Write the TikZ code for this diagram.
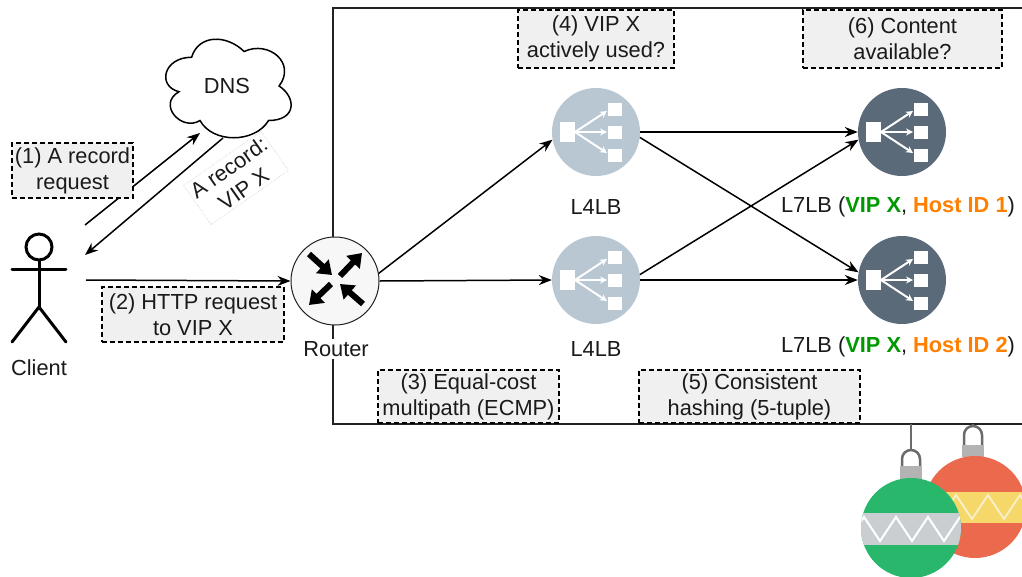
\documentclass[tikz,border=0pt]{standalone}
\usepackage{fontspec}
\setmainfont{Liberation Sans}
\usetikzlibrary{arrows.meta}

\definecolor{textc}{HTML}{1A1A1A}
\definecolor{boxfill}{HTML}{F0F0F0}
\definecolor{framec}{HTML}{222222}
\definecolor{lbfour}{HTML}{B9C7D3}
\definecolor{lbseven}{HTML}{5B6A79}
\definecolor{vipgreen}{HTML}{009900}
\definecolor{hostorange}{HTML}{FF8000}
\definecolor{ballgreen}{HTML}{29B76C}
\definecolor{ballred}{HTML}{EB6A4E}
\definecolor{bandyellow}{HTML}{F5D76A}
\definecolor{bandgray}{HTML}{C9CED1}
\definecolor{capgray}{HTML}{B3B3B3}
\definecolor{hookgray}{HTML}{6B6B6B}
\definecolor{zigcream}{HTML}{FAEFC4}

\begin{document}
\begin{tikzpicture}[x=1pt,y=-1pt,
  font=\fontsize{21.8}{26}\selectfont,
  note/.style={draw=black, line width=1.4pt, dash pattern=on 5pt off 3pt,
    fill=boxfill, align=center, inner sep=0pt, text=textc},
  flow/.style={line width=1.5pt, draw=black, -{Stealth[length=13pt,width=10pt]}},
  lbnode/.style={circle, minimum size=88pt, inner sep=0pt},
  lbl/.style={text=textc, align=center},
  stick/.style={line width=3pt, line cap=round},
  rarrow/.style={line width=6pt, -{Triangle[length=13pt,width=18pt]}},
  iconarrow/.style={white, line width=2pt, -{Stealth[length=7pt,width=7pt]}},
  hook/.style={draw=hookgray, line width=2.5pt}]

\useasboundingbox (0,0) rectangle (1022,576);
\fill[white] (0,0) rectangle (1022,576);

% data-centre frame, open to the right
\draw[framec, line width=1.6pt] (1022,8) -- (333,8) -- (333,424) -- (1022,424);

% DNS cloud (lobed outline in a 140 x 115 box)
\begin{scope}[shift={(156.6,28.5)}, x=140pt, y=-115pt]
  \draw[line width=1.5pt, fill=white]
    (0.25,0.25) .. controls (0.05,0.25) and (0,0.5) .. (0.16,0.55)
    .. controls (0,0.66) and (0.18,0.9) .. (0.31,0.8)
    .. controls (0.4,1) and (0.7,1) .. (0.8,0.8)
    .. controls (1,0.8) and (1,0.6) .. (0.875,0.5)
    .. controls (1,0.3) and (0.8,0.1) .. (0.625,0.2)
    .. controls (0.5,0.05) and (0.3,0.05) .. (0.25,0.25) -- cycle;
\end{scope}
\node[lbl] (dns) at (227,86) {DNS};

% client stick figure
\node[minimum width=56pt, minimum height=110pt, inner sep=0pt] (client) at (39,290) {};
\draw[stick] (39,247) circle (13);
\draw[stick] (12,269) -- (66,269);
\draw[stick] (39,260) -- (39,307);
\draw[stick] (12,342) -- (39,307) -- (66,342);
\node[lbl] (clientlbl) at (39,368) {Client};

% router
\node[lbnode, draw=framec, line width=1pt, fill=white!97!black] (router) at (335,281) {};
\foreach \a/\b in {{(-26,-27)}/{(-3,-6)}, {(5,-5)}/{(27,-28)},
                   {(-4,3)}/{(-26,24)}, {(28,23)}/{(5,3)}}
  \draw[rarrow] ([shift={\a}]router.center) -- ([shift={\b}]router.center);
\node[lbl, fill=white, inner sep=2pt] (routerlbl) at (336,349) {Router};

% load balancers
\node[lbnode, fill=lbfour] (l4a) at (596,132) {};
\node[lbnode, fill=lbfour] (l4b) at (596,280) {};
\node[lbnode, fill=lbseven] (l7a) at (902,132) {};
\node[lbnode, fill=lbseven] (l7b) at (902,280) {};
\foreach \n in {l4a,l4b,l7a,l7b}{
  \fill[white] ([shift={(-36,-10)}]\n.center) rectangle ([shift={(-21,10)}]\n.center);
  \foreach \dy in {-23,0,23}
    \fill[white] ([shift={(12,{\dy-6.5})}]\n.center) rectangle ([shift={(26,{\dy+6.5})}]\n.center);
  \foreach \dy in {-21,0,21}
    \draw[iconarrow] ([shift={(-21,0)}]\n.center) -- ([shift={(11,\dy)}]\n.center);
}
\node[lbl] (l4alb) at (596,207) {L4LB};
\node[lbl] (l4blb) at (596,349) {L4LB};
\node[lbl] (l7alb) at (898,207) {L7LB (\textbf{\textcolor{vipgreen}{VIP X}}, \textbf{\textcolor{hostorange}{Host ID 1}})};
\node[lbl] (l7blb) at (898,347) {L7LB (\textbf{\textcolor{vipgreen}{VIP X}}, \textbf{\textcolor{hostorange}{Host ID 2}})};

% connectors
\coordinate (cq) at (85,225);
\coordinate (dq) at (200,133);
\coordinate (da) at (223,138);
\coordinate (ca) at (85,255);
\coordinate (ch) at (86,280);
\draw[flow] (cq) -- (dq);
\draw[flow] (da) -- (ca);
\draw[flow] (ch) -- (router.west);
\draw[flow] (router.10) -- (l4a.190);
\draw[flow] (router.east) -- (l4b.west);
\draw[flow] (l4a.east) -- (l7a.west);
\draw[flow] (l4a.-7) -- (l7b.170);
\draw[flow] (l4b.7) -- (l7a.190);
\draw[flow] (l4b.east) -- (l7b.west);

% DNS answer label
\node[rotate=35, draw=gray!35, densely dotted, line width=0.6pt, fill=white,
      align=center, inner sep=3pt, text=textc] (arec) at (236,178) {A record:\\VIP X};

% step notes
\node[note, minimum width=121pt, minimum height=55pt] (n1) at (72.5,170.5) {(1) A record\\request};
\node[note, minimum width=182pt, minimum height=55pt] (n2) at (193,314.5) {(2) HTTP request\\to VIP X};
\node[note, minimum width=181pt, minimum height=53pt] (n3) at (468.5,396.5) {(3) Equal-cost\\multipath (ECMP)};
\node[note, minimum width=156pt, minimum height=58pt] (n4) at (596,39) {(4) VIP X\\actively used?};
\node[note, minimum width=221pt, minimum height=53pt] (n5) at (749.5,396.5) {(5) Consistent\\hashing (5-tuple)};
\node[note, minimum width=199pt, minimum height=58pt] (n6) at (902.5,39) {(6) Content\\available?};

% hanging baubles
\begin{scope}
  \clip (0,0) rectangle (1022,576);
  % red bauble (behind)
  \draw[hook] (973,424) -- (973,427);
  \draw[hook] (964,447) -- (964,435) arc (180:360:9) -- (982,447);
  \fill[capgray] (962,445) rectangle (984,457);
  \begin{scope}
    \clip (975,507) circle (51);
    \fill[ballred] (920,452) rectangle (1030,562);
    \fill[bandyellow] (920,492) rectangle (1030,523);
    \draw[zigcream, line width=2pt] (908,519) -- (924,495) -- (940,519) -- (956,495)
      -- (972,519) -- (988,495) -- (1004,519) -- (1020,495) -- (1036,519);
  \end{scope}
  % green bauble (front)
  \draw[hook] (911,424) -- (911,450);
  \draw[hook] (902,467) -- (902,459) arc (180:360:9) -- (920,467);
  \fill[capgray] (900,466) rectangle (922,481);
  \begin{scope}
    \clip (911,528) circle (50);
    \fill[ballgreen] (855,474) rectangle (965,582);
    \fill[bandgray] (855,513) rectangle (965,545);
    \draw[white, line width=2pt] (848,541) -- (864,517) -- (880,541) -- (896,517)
      -- (912,541) -- (928,517) -- (944,541) -- (960,517) -- (976,541);
  \end{scope}
\end{scope}
\end{tikzpicture}
\end{document}
